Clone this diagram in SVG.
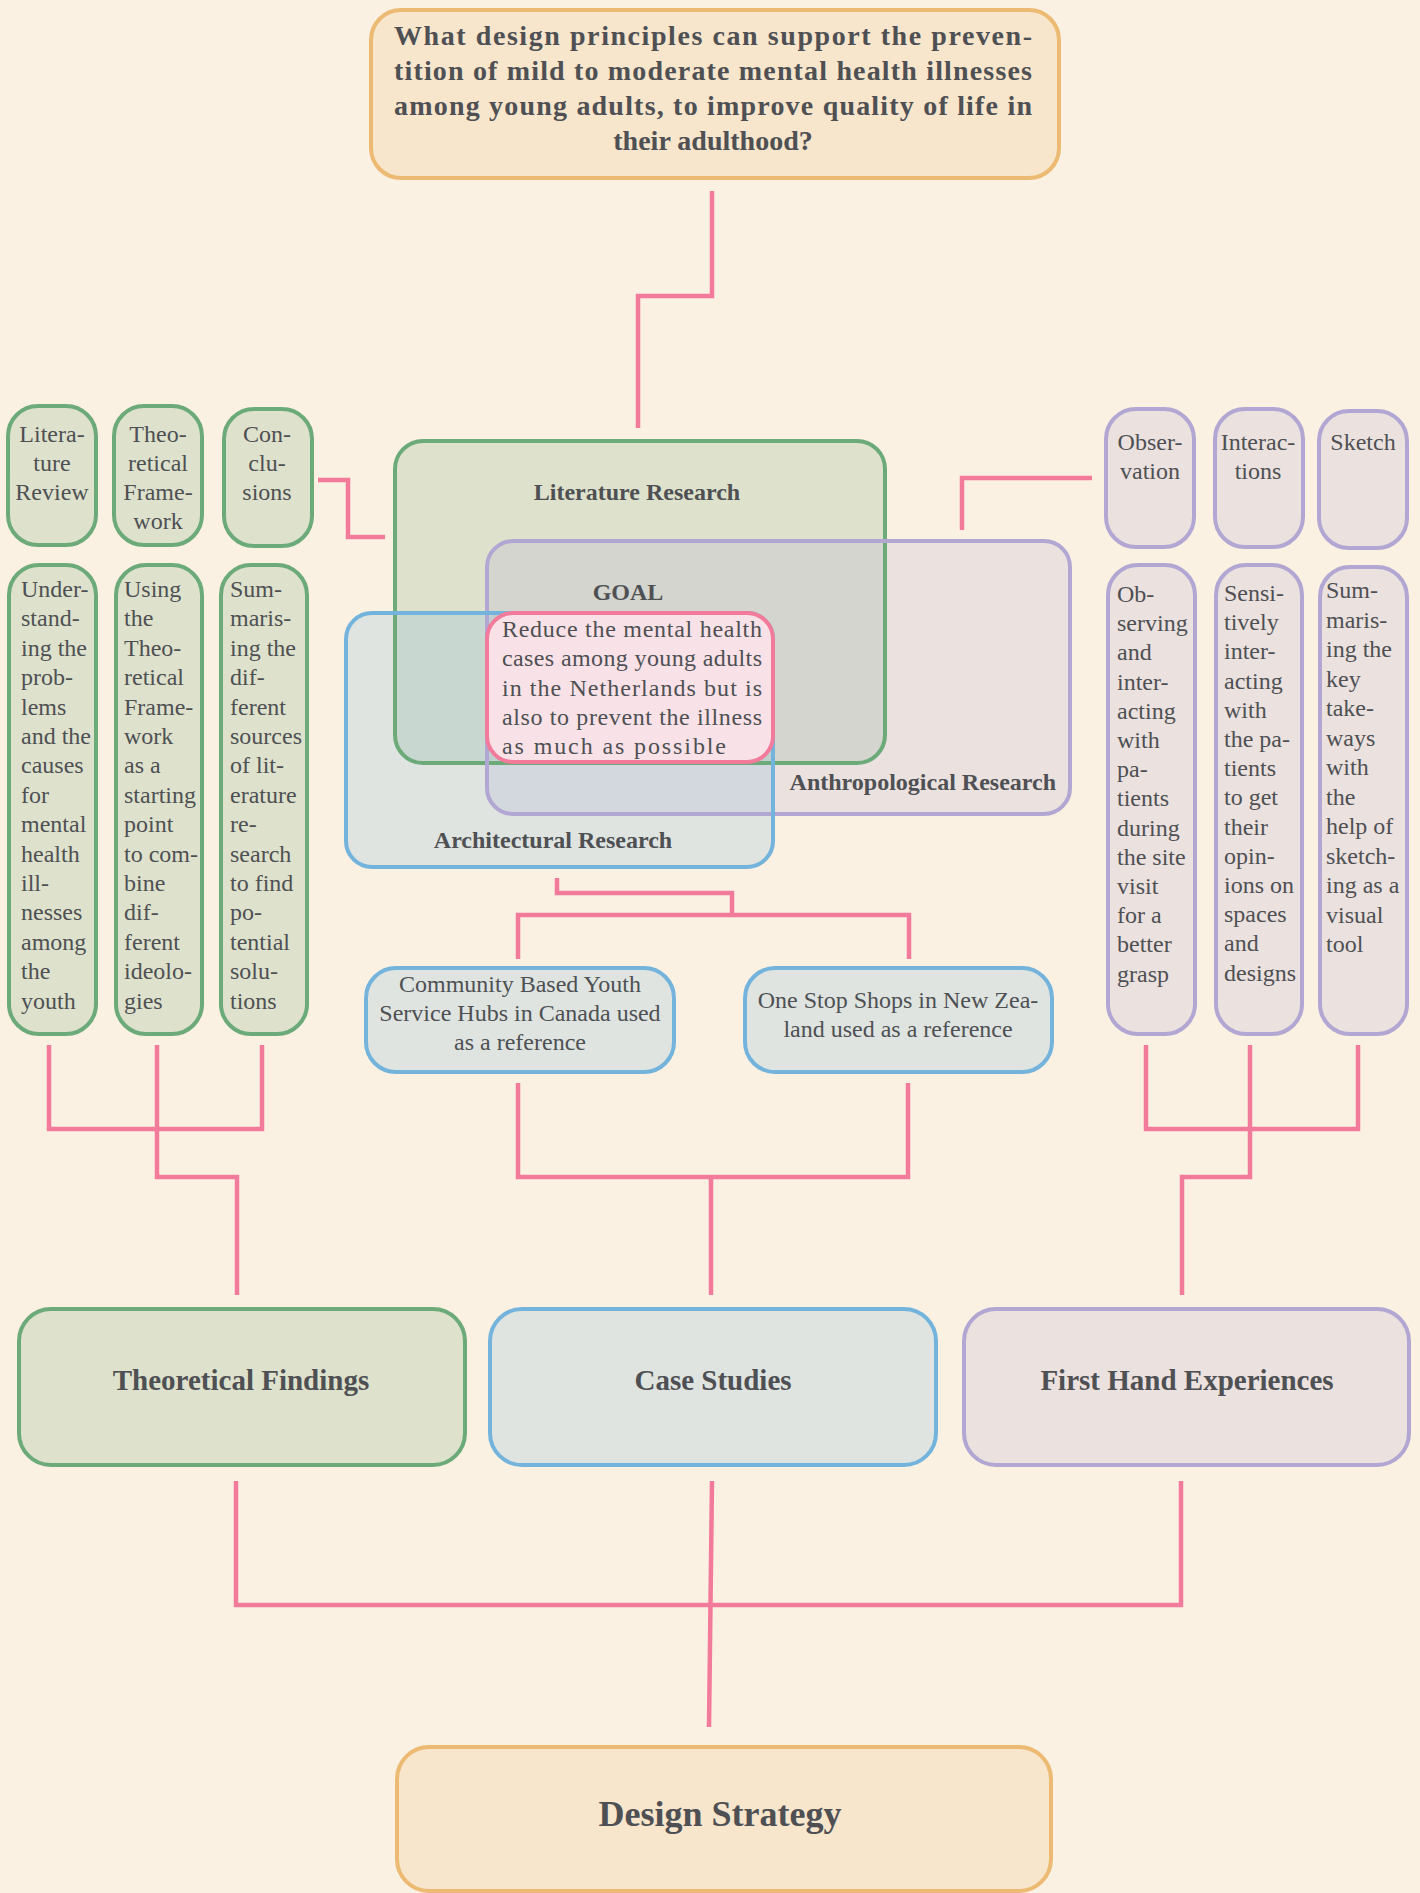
<svg xmlns="http://www.w3.org/2000/svg" width="1420" height="1893" viewBox="0 0 1420 1893">
<style>
text{font-family:"Liberation Serif","Times New Roman",serif;fill:#4e5053}
.t{font-size:24px}
.b{font-size:24px;font-weight:bold}
.q{font-size:28px;font-weight:bold}
.big{font-size:29px;font-weight:bold}
.ds{font-size:36px;font-weight:bold}
.g rect{fill:#6daa7a;fill-opacity:.2;stroke:#6daa7a;stroke-width:4}
.p rect{fill:#b1a7d2;fill-opacity:.2;stroke:#b1a7d2;stroke-width:4}
.bl rect{fill:#74b4dc;fill-opacity:.2;stroke:#74b4dc;stroke-width:4}
.o rect{fill:#ecba72;fill-opacity:.2;stroke:#ecba72;stroke-width:4}
.conn path{fill:none;stroke:#f27b9b;stroke-width:4.5;stroke-linejoin:miter}
.nofill{fill:none!important}
.nostroke{stroke:none!important}
</style>
<rect width="1420" height="1893" fill="#fbf1e3"/>

<g id="connectors" class="conn">
<path d="M712,191 V296 H638 V428"/>
<path d="M318,480 H348 V537 H385"/>
<path d="M1092,478 H962 V530"/>
<path d="M557,878 V893 H732 V915"/>
<path d="M518,959 V915 H909 V959"/>
<path d="M518,1083 V1177 H908 V1083"/>
<path d="M711,1177 V1295"/>
<path d="M49,1045 V1129 H262 V1045"/>
<path d="M157,1045 V1177 H237 V1295"/>
<path d="M1146,1045 V1129 H1358 V1045"/>
<path d="M1250,1045 V1177 H1182 V1295"/>
<path d="M236,1481 V1605 H1181 V1481"/>
<path d="M712,1481 L709,1727"/>
</g>

<g id="question" class="o">
<rect x="371" y="10" width="688" height="168" rx="30"/>
<text class="q" x="394" y="45" textLength="638" lengthAdjust="spacing">What design principles can support the preven-</text>
<text class="q" x="394" y="80" textLength="638" lengthAdjust="spacing">tition of mild to moderate mental health illnesses</text>
<text class="q" x="394" y="115" textLength="638" lengthAdjust="spacing">among young adults, to improve quality of life in</text>
<text class="q" x="713" y="150" text-anchor="middle">their adulthood?</text>
</g>

<g id="venn">
<g id="literature-research-fill" class="g"><rect class="nostroke" x="395" y="441" width="490" height="322" rx="28"/></g>
<g id="anthropological-research-fill" class="p"><rect class="nostroke" x="487" y="541" width="583" height="273" rx="26"/></g>
<g id="architectural-research-fill" class="bl"><rect class="nostroke" x="346" y="613" width="427" height="254" rx="26"/></g>
<g id="literature-research" class="g"><rect class="nofill" x="395" y="441" width="490" height="322" rx="28"/>
<text class="b" x="637" y="500" text-anchor="middle">Literature Research</text></g>
<g id="anthropological-research" class="p"><rect class="nofill" x="487" y="541" width="583" height="273" rx="26"/>
<text class="b" x="1056" y="790" text-anchor="end">Anthropological Research</text></g>
<g id="architectural-research" class="bl"><rect class="nofill" x="346" y="613" width="427" height="254" rx="26"/>
<text class="b" x="553" y="848" text-anchor="middle">Architectural Research</text></g>
<g id="goal">
<text class="b" x="628" y="600" text-anchor="middle">GOAL</text>
<rect x="487" y="613" width="286" height="149" rx="26" fill="#f8e2e7" stroke="#f27b9b" stroke-width="4"/>
<text class="t" x="502" y="637" textLength="260" lengthAdjust="spacing">Reduce the mental health</text>
<text class="t" x="502" y="666" textLength="260" lengthAdjust="spacing">cases among young adults</text>
<text class="t" x="502" y="696" textLength="260" lengthAdjust="spacing">in the Netherlands but is</text>
<text class="t" x="502" y="725" textLength="260" lengthAdjust="spacing">also to prevent the illness</text>
<text class="t" x="502" y="754" textLength="224" lengthAdjust="spacing">as much as possible</text>
</g>
</g>

<g id="literature-review" class="g"><rect x="8" y="406" width="88" height="139" rx="30"/>
<text class="t" text-anchor="middle"><tspan x="52" y="442">Litera-</tspan><tspan x="52" dy="29">ture</tspan><tspan x="52" dy="29">Review</tspan></text></g>
<g id="theoretical-framework" class="g"><rect x="114" y="406" width="88" height="139" rx="30"/>
<text class="t" text-anchor="middle"><tspan x="158" y="442">Theo-</tspan><tspan x="158" dy="29">retical</tspan><tspan x="158" dy="29">Frame-</tspan><tspan x="158" dy="29">work</tspan></text></g>
<g id="conclusions" class="g"><rect x="224" y="409" width="88" height="137" rx="30"/>
<text class="t" text-anchor="middle"><tspan x="267" y="442">Con-</tspan><tspan x="267" dy="29">clu-</tspan><tspan x="267" dy="29">sions</tspan></text></g>

<g id="literature-review-detail" class="g"><rect x="9" y="565" width="87" height="469" rx="30"/>
<text class="t"><tspan x="21" y="597">Under-</tspan><tspan x="21" dy="29.4">stand-</tspan><tspan x="21" dy="29.4">ing the</tspan><tspan x="21" dy="29.4">prob-</tspan><tspan x="21" dy="29.4">lems</tspan><tspan x="21" dy="29.4">and the</tspan><tspan x="21" dy="29.4">causes</tspan><tspan x="21" dy="29.4">for</tspan><tspan x="21" dy="29.4">mental</tspan><tspan x="21" dy="29.4">health</tspan><tspan x="21" dy="29.4">ill-</tspan><tspan x="21" dy="29.4">nesses</tspan><tspan x="21" dy="29.4">among</tspan><tspan x="21" dy="29.4">the</tspan><tspan x="21" dy="29.4">youth</tspan></text></g>
<g id="theoretical-framework-detail" class="g"><rect x="116" y="565" width="86" height="469" rx="30"/>
<text class="t"><tspan x="124" y="597">Using</tspan><tspan x="124" dy="29.4">the</tspan><tspan x="124" dy="29.4">Theo-</tspan><tspan x="124" dy="29.4">retical</tspan><tspan x="124" dy="29.4">Frame-</tspan><tspan x="124" dy="29.4">work</tspan><tspan x="124" dy="29.4">as a</tspan><tspan x="124" dy="29.4">starting</tspan><tspan x="124" dy="29.4">point</tspan><tspan x="124" dy="29.4">to com-</tspan><tspan x="124" dy="29.4">bine</tspan><tspan x="124" dy="29.4">dif-</tspan><tspan x="124" dy="29.4">ferent</tspan><tspan x="124" dy="29.4">ideolo-</tspan><tspan x="124" dy="29.4">gies</tspan></text></g>
<g id="conclusions-detail" class="g"><rect x="221" y="565" width="86" height="469" rx="30"/>
<text class="t"><tspan x="230" y="597">Sum-</tspan><tspan x="230" dy="29.4">maris-</tspan><tspan x="230" dy="29.4">ing the</tspan><tspan x="230" dy="29.4">dif-</tspan><tspan x="230" dy="29.4">ferent</tspan><tspan x="230" dy="29.4">sources</tspan><tspan x="230" dy="29.4">of lit-</tspan><tspan x="230" dy="29.4">erature</tspan><tspan x="230" dy="29.4">re-</tspan><tspan x="230" dy="29.4">search</tspan><tspan x="230" dy="29.4">to find</tspan><tspan x="230" dy="29.4">po-</tspan><tspan x="230" dy="29.4">tential</tspan><tspan x="230" dy="29.4">solu-</tspan><tspan x="230" dy="29.4">tions</tspan></text></g>

<g id="observation" class="p"><rect x="1106" y="409" width="88" height="138" rx="30"/>
<text class="t" text-anchor="middle"><tspan x="1150" y="450">Obser-</tspan><tspan x="1150" dy="29">vation</tspan></text></g>
<g id="interactions" class="p"><rect x="1215" y="409" width="88" height="138" rx="30"/>
<text class="t" text-anchor="middle"><tspan x="1258" y="450">Interac-</tspan><tspan x="1258" dy="29">tions</tspan></text></g>
<g id="sketch" class="p"><rect x="1319" y="411" width="88" height="137" rx="30"/>
<text class="t" x="1363" y="450" text-anchor="middle">Sketch</text></g>

<g id="observation-detail" class="p"><rect x="1108" y="565" width="87" height="469" rx="30"/>
<text class="t"><tspan x="1117" y="602">Ob-</tspan><tspan x="1117" dy="29.2">serving</tspan><tspan x="1117" dy="29.2">and</tspan><tspan x="1117" dy="29.2">inter-</tspan><tspan x="1117" dy="29.2">acting</tspan><tspan x="1117" dy="29.2">with</tspan><tspan x="1117" dy="29.2">pa-</tspan><tspan x="1117" dy="29.2">tients</tspan><tspan x="1117" dy="29.2">during</tspan><tspan x="1117" dy="29.2">the site</tspan><tspan x="1117" dy="29.2">visit</tspan><tspan x="1117" dy="29.2">for a</tspan><tspan x="1117" dy="29.2">better</tspan><tspan x="1117" dy="29.2">grasp</tspan></text></g>
<g id="interactions-detail" class="p"><rect x="1216" y="565" width="86" height="469" rx="30"/>
<text class="t"><tspan x="1224" y="601">Sensi-</tspan><tspan x="1224" dy="29.2">tively</tspan><tspan x="1224" dy="29.2">inter-</tspan><tspan x="1224" dy="29.2">acting</tspan><tspan x="1224" dy="29.2">with</tspan><tspan x="1224" dy="29.2">the pa-</tspan><tspan x="1224" dy="29.2">tients</tspan><tspan x="1224" dy="29.2">to get</tspan><tspan x="1224" dy="29.2">their</tspan><tspan x="1224" dy="29.2">opin-</tspan><tspan x="1224" dy="29.2">ions on</tspan><tspan x="1224" dy="29.2">spaces</tspan><tspan x="1224" dy="29.2">and</tspan><tspan x="1224" dy="29.2">designs</tspan></text></g>
<g id="sketch-detail" class="p"><rect x="1320" y="567" width="87" height="467" rx="30"/>
<text class="t"><tspan x="1326" y="598">Sum-</tspan><tspan x="1326" dy="29.5">maris-</tspan><tspan x="1326" dy="29.5">ing the</tspan><tspan x="1326" dy="29.5">key</tspan><tspan x="1326" dy="29.5">take-</tspan><tspan x="1326" dy="29.5">ways</tspan><tspan x="1326" dy="29.5">with</tspan><tspan x="1326" dy="29.5">the</tspan><tspan x="1326" dy="29.5">help of</tspan><tspan x="1326" dy="29.5">sketch-</tspan><tspan x="1326" dy="29.5">ing as a</tspan><tspan x="1326" dy="29.5">visual</tspan><tspan x="1326" dy="29.5">tool</tspan></text></g>

<g id="case-canada" class="bl"><rect x="366" y="968" width="308" height="104" rx="30"/>
<text class="t" text-anchor="middle"><tspan x="520" y="992">Community Based Youth</tspan><tspan x="520" dy="29">Service Hubs in Canada used</tspan><tspan x="520" dy="29">as a reference</tspan></text></g>
<g id="case-newzealand" class="bl"><rect x="745" y="968" width="307" height="104" rx="30"/>
<text class="t" text-anchor="middle"><tspan x="898" y="1008">One Stop Shops in New Zea-</tspan><tspan x="898" dy="29">land used as a reference</tspan></text></g>

<g id="theoretical-findings" class="g"><rect x="19" y="1309" width="446" height="156" rx="32"/>
<text class="big" x="241" y="1390" text-anchor="middle">Theoretical Findings</text></g>
<g id="case-studies" class="bl"><rect x="490" y="1309" width="446" height="156" rx="32"/>
<text class="big" x="713" y="1390" text-anchor="middle">Case Studies</text></g>
<g id="first-hand-experiences" class="p"><rect x="964" y="1309" width="445" height="156" rx="32"/>
<text class="big" x="1187" y="1390" text-anchor="middle">First Hand Experiences</text></g>

<g id="design-strategy" class="o"><rect x="397" y="1747" width="654" height="144" rx="32"/>
<text class="ds" x="720" y="1826" text-anchor="middle">Design Strategy</text></g>
</svg>
